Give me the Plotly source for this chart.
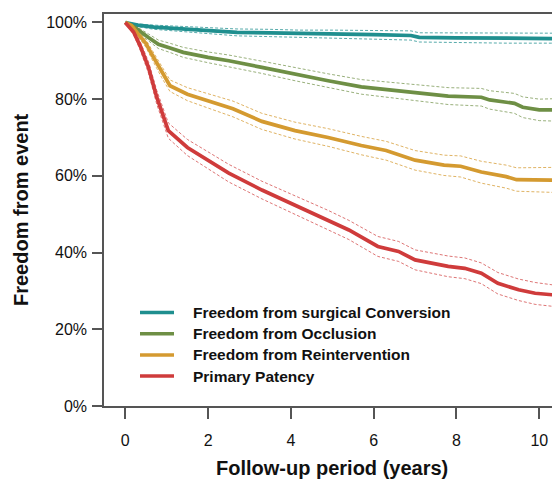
import plotly.graph_objects as go

# ---- data (years, % freedom from event) ----
conv_t = [0, 0.3, 0.7, 1.4, 2.2, 2.7, 3.5, 4.2, 5.0, 6.0, 6.9, 7.1, 8.0, 9.2, 10.31]
conv_est = [100, 99.3, 98.8, 98.3, 97.8, 97.4, 97.3, 97.1, 97.0, 96.8, 96.6, 96.1, 96.0, 95.9, 95.8]
conv_lo = [100, 98.9, 98.2, 97.6, 97.0, 96.5, 96.3, 96.1, 95.9, 95.6, 95.4, 94.9, 94.7, 94.6, 94.6]
conv_hi = [100, 99.6, 99.3, 99.0, 98.6, 98.3, 98.2, 98.0, 98.0, 97.9, 97.8, 97.3, 97.3, 97.2, 97.2]

occl_t = [0, 0.23, 0.56, 0.8, 1.1, 1.4, 2.0, 2.5, 3.3, 4.1, 4.9, 5.7, 6.4, 7.0, 7.8, 8.6, 8.8, 9.4, 9.6, 10.0, 10.31]
occl_est = [100, 98.7, 96.1, 94.3, 93.3, 92.2, 90.9, 90.0, 88.3, 86.5, 84.8, 83.2, 82.4, 81.8, 80.8, 80.5, 79.8, 78.9, 77.9, 77.2, 77.2]
occl_lo = [100, 98.2, 95.2, 93.2, 92.1, 90.9, 89.5, 88.5, 86.7, 84.8, 83.0, 81.3, 80.4, 79.7, 78.6, 78.2, 77.4, 76.3, 75.2, 74.4, 74.3]
occl_hi = [100, 99.2, 97.0, 95.4, 94.5, 93.5, 92.3, 91.5, 89.9, 88.2, 86.6, 85.1, 84.4, 83.9, 83.0, 82.8, 82.2, 81.5, 80.6, 80.0, 80.1]

reint_t = [0, 0.15, 0.31, 0.5, 0.64, 0.88, 1.08, 1.5, 2.1, 2.6, 3.3, 4.1, 4.9, 5.7, 6.3, 7.0, 7.7, 8.1, 8.6, 9.2, 9.45, 10.31]
reint_est = [100, 99.2, 97.0, 94.5, 91.7, 87.0, 83.5, 81.3, 79.2, 77.5, 74.2, 71.8, 70.0, 67.9, 66.6, 64.1, 62.8, 62.5, 61.0, 59.8, 59.0, 58.9]
reint_lo = [100, 98.9, 96.3, 93.5, 90.5, 85.6, 82.0, 79.6, 77.3, 75.4, 72.1, 69.6, 67.7, 65.5, 64.1, 61.5, 60.1, 59.7, 58.1, 56.8, 56.0, 55.7]
reint_hi = [100, 99.5, 97.7, 95.5, 92.9, 88.4, 85.0, 83.0, 81.1, 79.5, 76.3, 74.0, 72.3, 70.3, 69.0, 66.6, 65.4, 65.2, 63.8, 62.8, 62.1, 62.2]

pat_t = [0, 0.2, 0.36, 0.56, 0.76, 1.04, 1.5, 2.0, 2.5, 3.3, 4.1, 4.9, 5.4, 6.1, 6.6, 7.0, 7.8, 8.2, 8.6, 9.0, 9.5, 9.9, 10.31]
pat_est = [100, 97.5, 93.9, 88.3, 80.5, 71.8, 67.4, 64.0, 60.7, 56.3, 52.4, 48.5, 45.9, 41.6, 40.3, 38.1, 36.4, 35.9, 34.6, 32.0, 30.3, 29.4, 29.0]
pat_lo = [100, 96.8, 92.8, 86.8, 78.7, 69.8, 65.3, 61.8, 58.4, 54.0, 50.0, 46.0, 43.4, 39.0, 37.7, 35.5, 33.7, 33.2, 31.9, 29.2, 27.5, 26.5, 26.0]
pat_hi = [100, 98.2, 95.0, 89.8, 82.3, 73.8, 69.5, 66.2, 63.0, 58.6, 54.8, 51.0, 48.4, 44.2, 42.9, 40.7, 39.1, 38.6, 37.3, 34.8, 33.1, 32.2, 31.6]

names = ["Freedom from surgical Conversion", "Freedom from Occlusion",
         "Freedom from Reintervention", "Primary Patency"]
colors = ["#1f8f8f", "#6e8f45", "#d49a30", "#cf3b3b"]
band_colors = ["rgba(31,143,143,0.75)", "rgba(110,143,69,0.7)",
               "rgba(212,154,48,0.75)", "rgba(207,59,59,0.7)"]

x_ticks = [0, 2, 4, 6, 8, 10]
y_ticks = [0, 20, 40, 60, 80, 100]

series = [
    (conv_t, conv_est, conv_lo, conv_hi),
    (occl_t, occl_est, occl_lo, occl_hi),
    (reint_t, reint_est, reint_lo, reint_hi),
    (pat_t, pat_est, pat_lo, pat_hi),
]

FONT = "Liberation Sans"
FIG_W, FIG_H = 552, 480
# plot area in window pixels
L, T, W, H = 104, 14, 448, 392


def px(xp):
    return (xp - L) / W


def py(yp):
    return (T + H - yp) / H


fig = go.Figure()
for (t, est, lo, hi), name, col, bcol in zip(series, names, colors, band_colors):
    for band in (lo, hi):
        fig.add_trace(go.Scatter(x=t, y=band, mode="lines", showlegend=False,
                                 hoverinfo="skip",
                                 line=dict(color=bcol, width=1, dash="3px,2px")))
for (t, est, lo, hi), name, col in zip(series, names, colors):
    fig.add_trace(go.Scatter(x=t, y=est, mode="lines", name=name, showlegend=False,
                             line=dict(color=col, width=3.7)))

# manual legend (key lines + labels)
shapes = []
annotations = []
for i, (name, col) in enumerate(zip(names, colors)):
    yy = 312.5 + 21.2 * i
    shapes.append(dict(type="line", xref="paper", yref="paper",
                       x0=px(140), x1=px(174), y0=py(yy), y1=py(yy),
                       line=dict(color=col, width=3.5)))
    annotations.append(dict(xref="paper", yref="paper", x=px(191), y=py(yy),
                            xanchor="left", yanchor="middle", showarrow=False,
                            text=name,
                            font=dict(family=FONT, size=15.5, color="#111", weight="bold")))

# axis titles
annotations.append(dict(xref="paper", yref="paper", x=px(332), y=py(468),
                        xanchor="center", yanchor="middle", showarrow=False,
                        text="Follow-up period (years)",
                        font=dict(family=FONT, size=20, color="#111", weight="bold")))
annotations.append(dict(xref="paper", yref="paper", x=px(21), y=py(210),
                        xanchor="center", yanchor="middle", showarrow=False,
                        textangle=-90, text="Freedom from event",
                        font=dict(family=FONT, size=20, color="#111", weight="bold")))

fig.update_layout(
    width=FIG_W, height=FIG_H,
    margin=dict(l=L, r=FIG_W - L - W, t=T, b=FIG_H - T - H, pad=0, autoexpand=False),
    plot_bgcolor="white", paper_bgcolor="white",
    font=dict(family=FONT, size=16, color="#111"),
    showlegend=False,
    shapes=shapes,
    annotations=annotations,
    xaxis=dict(range=[-0.514, 10.307], tickvals=x_ticks,
               ticktext=[str(v) for v in x_ticks],
               showgrid=False, zeroline=False, automargin=False,
               showline=True, mirror=True, linecolor="#555", linewidth=1.5,
               ticks="outside", ticklen=11, tickcolor="#555", tickwidth=1.5,
               ticklabelstandoff=8,
               tickfont=dict(family=FONT, size=16, color="#111")),
    yaxis=dict(range=[0, 102.2], tickvals=y_ticks,
               ticktext=[f"{v}%" for v in y_ticks],
               showgrid=False, zeroline=False, automargin=False,
               showline=True, mirror=False, linecolor="#555", linewidth=1.5,
               ticks="outside", ticklen=10, tickcolor="#555", tickwidth=1.5,
               ticklabelstandoff=2,
               tickfont=dict(family=FONT, size=16, color="#111")),
)

fig.write_html(
    "out.html",
    config={"displayModeBar": False},
    post_script="document.body.style.margin='0';document.body.style.overflow='hidden';",
)
